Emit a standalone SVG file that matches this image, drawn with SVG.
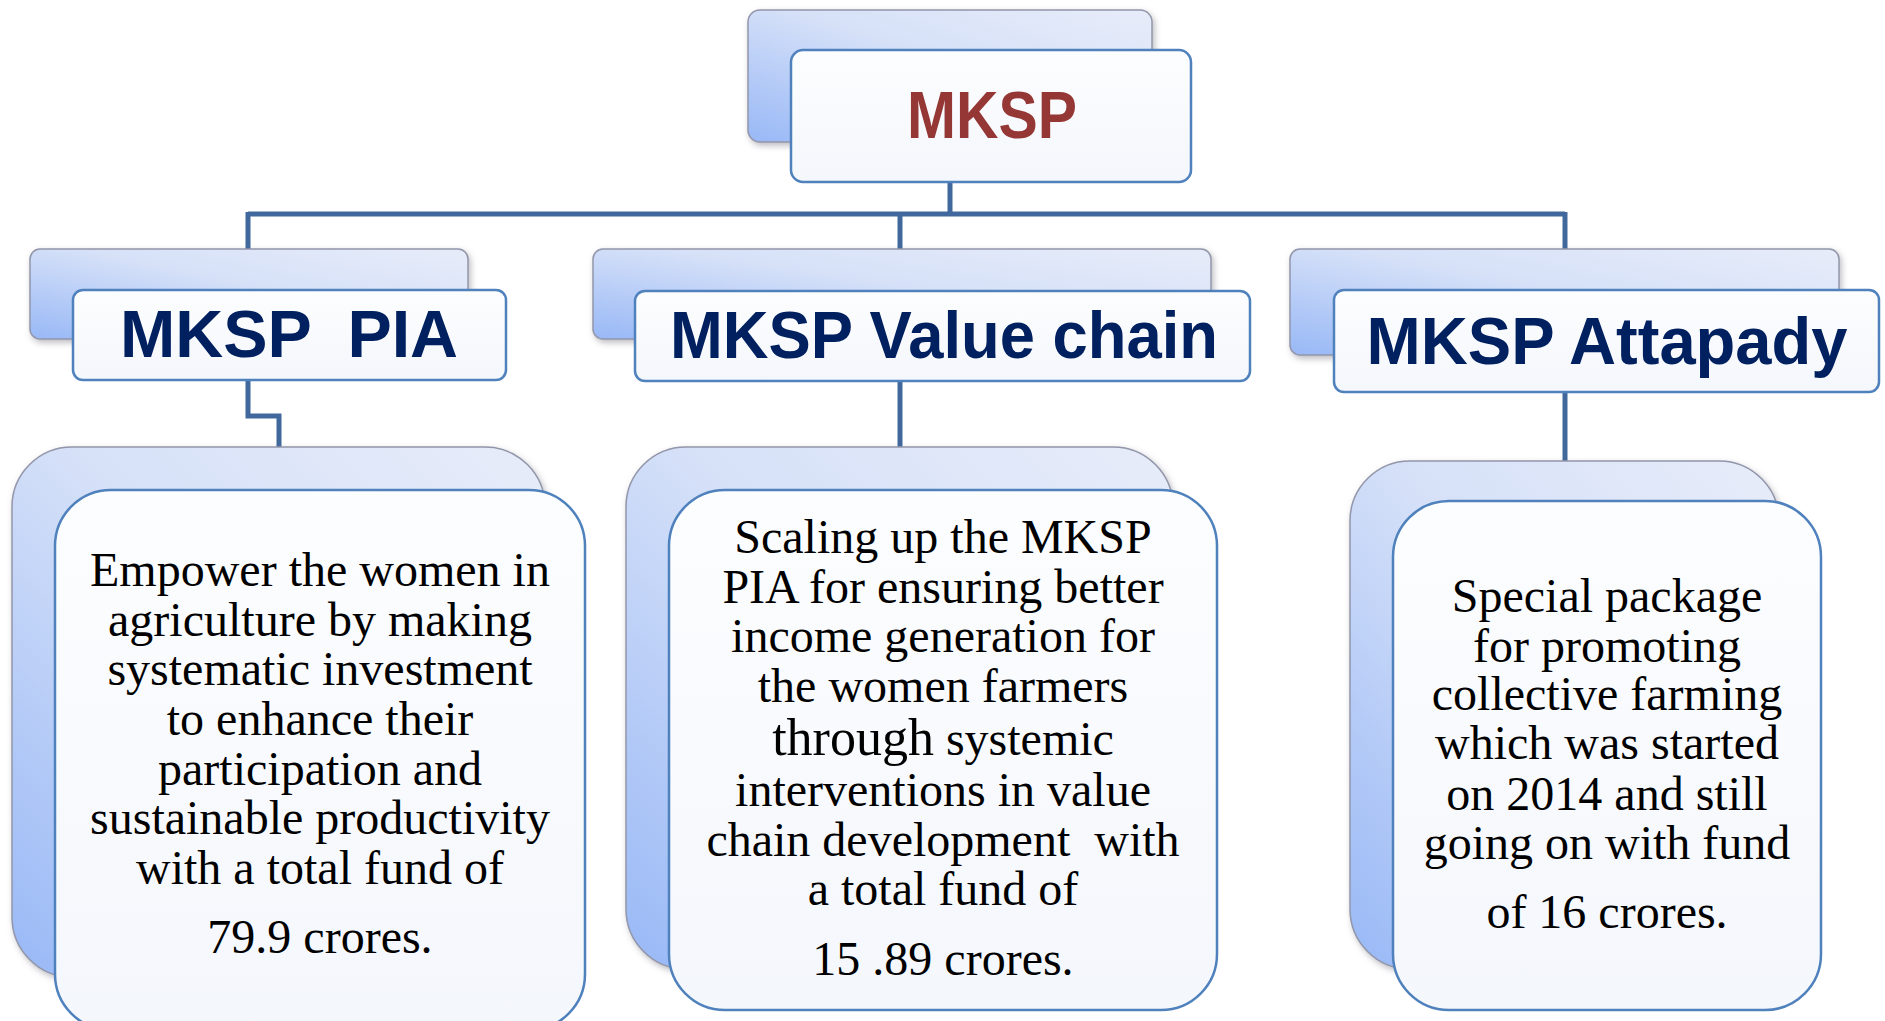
<svg xmlns="http://www.w3.org/2000/svg" width="1885" height="1021" viewBox="0 0 1885 1021">
<defs>
  <linearGradient id="backGrad" x1="1" y1="0" x2="0" y2="1">
    <stop offset="0" stop-color="#e7ecf9"/>
    <stop offset="0.45" stop-color="#d6e1f8"/>
    <stop offset="1" stop-color="#98b8f6"/>
  </linearGradient>
  <linearGradient id="frontGrad" x1="0" y1="0" x2="0" y2="1">
    <stop offset="0" stop-color="#fcfdfe"/>
    <stop offset="1" stop-color="#f4f7fc"/>
  </linearGradient>
  <filter id="sh" x="-10%" y="-10%" width="120%" height="125%">
    <feDropShadow dx="2" dy="3" stdDeviation="3" flood-color="#6a6a78" flood-opacity="0.45"/>
  </filter>
</defs>
<style>
  .back { fill:url(#backGrad); stroke:#9296aa; stroke-width:1.5; filter:url(#sh); }
  .front { fill:url(#frontGrad); stroke:#4f81bd; stroke-width:2.5; }
  .hdr { font-family:"Liberation Sans", Arial, sans-serif; font-weight:bold; font-size:66px; fill:#002060; text-anchor:middle; white-space:pre; }
  .title { fill:#953735; }
  .body { font-family:"Liberation Serif", "Times New Roman", serif; font-size:48px; fill:#000; text-anchor:middle; white-space:pre; }
  .conn { stroke:#41689c; stroke-width:5; fill:none; }
</style>
<rect width="1885" height="1021" fill="#ffffff"/>

<g id="connectors">
  <path class="conn" d="M950 182 V214"/>
  <path class="conn" d="M248 214 H1565"/>
  <path class="conn" d="M248 212 V250"/>
  <path class="conn" d="M900 214 V250"/>
  <path class="conn" d="M1565 212 V250"/>
  <path class="conn" d="M248 380 V416 H279 V447"/>
  <path class="conn" d="M900 381 V447"/>
  <path class="conn" d="M1565 392 V461"/>
</g>

<g id="mksp">
  <rect class="back" x="748" y="10" width="404" height="132" rx="12"/>
  <rect class="front" x="791" y="50" width="400" height="132" rx="12"/>
  <text class="hdr title" x="992" y="138" textLength="170" lengthAdjust="spacingAndGlyphs">MKSP</text>
</g>

<g id="mksp-pia">
  <rect class="back" x="30" y="249" width="438" height="90" rx="10"/>
  <rect class="front" x="73" y="290" width="433" height="90" rx="10"/>
  <text class="hdr" x="289" y="357" textLength="338" lengthAdjust="spacingAndGlyphs">MKSP  PIA</text>
</g>

<g id="mksp-value-chain">
  <rect class="back" x="593" y="249" width="618" height="90" rx="10"/>
  <rect class="front" x="635" y="291" width="615" height="90" rx="10"/>
  <text class="hdr" x="944" y="358" textLength="548" lengthAdjust="spacingAndGlyphs">MKSP Value chain</text>
</g>

<g id="mksp-attapady">
  <rect class="back" x="1290" y="249" width="549" height="106" rx="10"/>
  <rect class="front" x="1334" y="290" width="545" height="102" rx="10"/>
  <text class="hdr" x="1607" y="364" textLength="481" lengthAdjust="spacingAndGlyphs">MKSP Attapady</text>
</g>

<g id="pia-detail">
  <rect class="back" x="12" y="447" width="533" height="530" rx="60"/>
  <rect class="front" x="55" y="490" width="530" height="540" rx="56"/>
  <text class="body" x="320" y="586">Empower the women in</text>
  <text class="body" x="320" y="636">agriculture by making</text>
  <text class="body" x="320" y="685">systematic investment</text>
  <text class="body" x="320" y="735">to enhance their</text>
  <text class="body" x="320" y="785">participation and</text>
  <text class="body" x="320" y="834">sustainable productivity</text>
  <text class="body" x="320" y="884">with a total fund of</text>
  <text class="body" x="320" y="953">79.9 crores.</text>
</g>

<g id="value-chain-detail">
  <rect class="back" x="626" y="447" width="547" height="522" rx="60"/>
  <rect class="front" x="669" y="490" width="548" height="520" rx="56"/>
  <text class="body" x="943" y="553">Scaling up the MKSP</text>
  <text class="body" x="943" y="603">PIA for ensuring better</text>
  <text class="body" x="943" y="652">income generation for</text>
  <text class="body" x="943" y="702">the women farmers</text>
  <text class="body" x="943" y="755"><tspan style="font-size:52px">through</tspan> systemic</text>
  <text class="body" x="943" y="806">interventions in value</text>
  <text class="body" x="943" y="856">chain development  with</text>
  <text class="body" x="943" y="905">a total fund of</text>
  <text class="body" x="943" y="975">15 .89 crores.</text>
</g>

<g id="attapady-detail">
  <rect class="back" x="1350" y="461" width="429" height="508" rx="60"/>
  <rect class="front" x="1393" y="501" width="428" height="509" rx="56"/>
  <text class="body" x="1607" y="612">Special package</text>
  <text class="body" x="1607" y="662">for promoting</text>
  <text class="body" x="1607" y="710">collective farming</text>
  <text class="body" x="1607" y="759">which was started</text>
  <text class="body" x="1607" y="810">on 2014 and still</text>
  <text class="body" x="1607" y="859">going on with fund</text>
  <text class="body" x="1607" y="928">of 16 crores.</text>
</g>
</svg>
